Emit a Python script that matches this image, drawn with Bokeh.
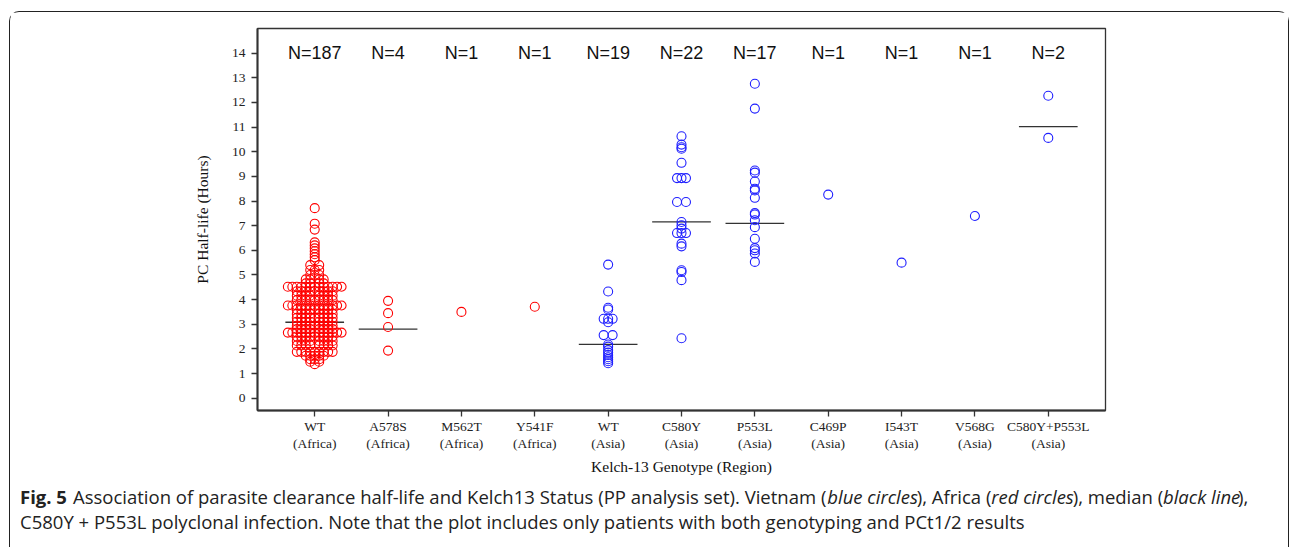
from bokeh.plotting import figure
from bokeh.layouts import column
from bokeh.models import Range1d, FixedTicker, Label, ColumnDataSource
from bokeh.core.properties import value
from bokeh.embed import file_html
from bokeh.resources import INLINE

# ---------------- data ----------------
categories = ["WT\n(Africa)", "A578S\n(Africa)", "M562T\n(Africa)", "Y541F\n(Africa)",
              "WT\n(Asia)", "C580Y\n(Asia)", "P553L\n(Asia)", "C469P\n(Asia)",
              "I543T\n(Asia)", "V568G\n(Asia)", "C580Y+P553L\n(Asia)"]
regions = ["Africa", "Africa", "Africa", "Africa", "Asia", "Asia", "Asia", "Asia", "Asia", "Asia", "Asia"]
n_labels = ["N=187", "N=4", "N=1", "N=1", "N=19", "N=22", "N=17", "N=1", "N=1", "N=1", "N=2"]

wt_africa = ([7.71, 7.08, 6.84, 6.32, 6.20, 6.08, 5.96, 5.84, 5.72, 5.60]
             + [5.40] * 2 + [5.20] * 3 + [5.00] * 3 + [4.82] * 4 + [4.66] * 4
             + [4.52] * 13
             + [4.34] * 9 + [4.16] * 8 + [3.98] * 9
             + [3.76] * 13
             + [3.60] * 9 + [3.42] * 8 + [3.26] * 9 + [3.10] * 8 + [2.94] * 9 + [2.80] * 8
             + [2.66] * 13
             + [2.50] * 9 + [2.32] * 8 + [2.14] * 8
             + [1.88] * 9
             + [1.72] * 5 + [1.58] * 3 + [1.48] * 2 + [1.38])
a578s_africa = [3.95, 3.45, 2.89, 1.93]
m562t_africa = [3.50]
y541f_africa = [3.71]
wt_asia = [5.42, 4.33, 3.67, 3.60, 3.22, 3.22, 3.22, 3.08, 2.56, 2.56,
           2.18, 2.09, 1.95, 1.85, 1.75, 1.66, 1.58, 1.50, 1.42]
c580y_asia = [10.63, 10.29, 10.18, 10.12, 9.55, 8.93, 8.93, 8.93, 7.96, 7.96, 7.15,
              7.01, 6.88, 6.70, 6.70, 6.70, 6.27, 6.16, 5.19, 5.12, 4.79, 2.43]
p553l_asia = [12.76, 11.75, 9.24, 9.15, 8.79, 8.50, 8.43, 8.13, 7.51, 7.45,
              7.22, 6.94, 6.47, 6.09, 6.00, 5.87, 5.53]
c469p_asia = [8.26]
i543t_asia = [5.50]
v568g_asia = [7.39]
c580y_p553l_asia = [12.27, 10.56]

medians = [3.08, 2.80, None, None, 2.18, 7.15, 7.09, None, None, None, 11.02]

groups = [wt_africa, a578s_africa, m562t_africa, y541f_africa, wt_asia, c580y_asia,
          p553l_asia, c469p_asia, i543t_asia, v568g_asia, c580y_p553l_asia]

region_colors = {"Africa": "#ff0000", "Asia": "#1f1fff"}

caption_line1 = [
    ("Fig. 5", "bold"),
    ("Association of parasite clearance half-life and Kelch13 Status (PP analysis set). Vietnam (", "normal"),
    ("blue circles", "italic"),
    ("), Africa (", "normal"),
    ("red circles", "italic"),
    ("), median (", "normal"),
    ("black line", "italic"),
    ("),", "normal"),
]
caption_line2 = ("C580Y + P553L polyclonal infection. Note that the plot includes only "
                 "patients with both genotyping and PCt1/2 results")

# ---------------- helpers ----------------
SWARM_STEP = 0.061  # horizontal spread step for identical values (category units)


def swarm_offsets(vals):
    counts = {}
    for v in vals:
        counts[v] = counts.get(v, 0) + 1
    seen = {}
    offs = []
    for v in vals:
        n = counts[v]
        k = seen.get(v, 0)
        seen[v] = k + 1
        if n % 2:
            slots = [0] + [s for i in range(1, n // 2 + 1) for s in (-i, i)]
        else:
            slots = [s for i in range(1, n // 2 + 1) for s in (-i, i)]
        offs.append(slots[k] * SWARM_STEP)
    return offs


xs, ys, cols = [], [], []
for i, (vals, reg) in enumerate(zip(groups, regions)):
    for off, v in zip(swarm_offsets(vals), vals):
        xs.append(i + off)
        ys.append(v)
        cols.append(region_colors[reg])
pts = ColumnDataSource(dict(x=xs, y=ys, c=cols))

mx0, mx1, my = [], [], []
for i, m in enumerate(medians):
    if m is not None:
        mx0.append(i - 0.4)
        mx1.append(i + 0.4)
        my.append(m)

# ---------------- main chart ----------------
W = 1278
p = figure(width=W, height=468, output_backend="svg", toolbar_location=None,
           x_range=Range1d(-0.78, 10.78), y_range=Range1d(-0.5, 15),
           min_border_left=247, min_border_right=183, min_border_top=16, min_border_bottom=70,
           background_fill_color="white", border_fill_color="white")
p.frame_align = False
p.grid.visible = False
p.outline_line_color = "#333333"
p.outline_line_width = 1.3

serif = "Liberation Serif"
for ax in (p.xaxis, p.yaxis):
    ax.axis_line_color = "#333333"
    ax.axis_line_width = 2
    ax.major_tick_line_color = "#333333"
    ax.major_tick_line_width = 1.3
    ax.major_tick_in = 0
    ax.major_tick_out = 6
    ax.minor_tick_line_color = None
    ax.major_label_text_font = serif
    ax.major_label_text_font_size = "13.5px"
    ax.major_label_text_color = "#222222"
    ax.axis_label_text_font = serif
    ax.axis_label_text_font_size = "15.5px"
    ax.axis_label_text_font_style = "normal"
    ax.axis_label_text_color = "#111111"

p.yaxis.ticker = FixedTicker(ticks=list(range(0, 15)))
p.yaxis.axis_label = "PC Half-life (Hours)"
p.yaxis.major_label_standoff = 6
p.yaxis.axis_label_standoff = 18

p.xaxis.ticker = FixedTicker(ticks=list(range(len(categories))))
p.xaxis.major_label_overrides = {i: c for i, c in enumerate(categories)}
p.xaxis.axis_label = "Kelch-13 Genotype (Region)"
p.xaxis.major_label_standoff = 2
p.xaxis.major_label_text_line_height = 1.15
p.xaxis.axis_label_standoff = 4

p.segment(x0=mx0, x1=mx1, y0=my, y1=my, line_color="#333333", line_width=1.3)
p.scatter("x", "y", source=pts, marker="circle", size=9, fill_color=None,
          line_color="c", line_width=1.1)

p.text(x=list(range(len(n_labels))), y=[14] * len(n_labels), text=n_labels,
       text_align="center", text_baseline="middle", text_font=value("Liberation Sans"),
       text_font_size="18px", text_color="#111111")

# ---------------- caption strip ----------------
CH = 67
cap = figure(width=W, height=CH, output_backend="svg", toolbar_location=None,
             x_range=Range1d(0, W), y_range=Range1d(0, CH), min_border=0,
             min_border_left=0, min_border_right=0, min_border_top=0, min_border_bottom=0,
             x_axis_location=None, y_axis_location=None,
             background_fill_color="white", border_fill_color="white")
cap.frame_align = False
cap.outline_line_color = None
cap.grid.visible = False

cap_font = "Open Sans"
cap_size = "18.5px"
seg_x = [9.5, 62.5, 816.8, 906.3, 980.7, 1062.2, 1152.5, 1227.5]
for (txt, style), xx in zip(caption_line1, seg_x):
    cap.add_layout(Label(x=xx, y=15.5, x_units="canvas", y_units="canvas", text=txt,
                         text_font=cap_font, text_font_size=cap_size, text_font_style=style,
                         text_baseline="middle", text_color="#222222"))
cap.add_layout(Label(x=9.5, y=40.5, x_units="canvas", y_units="canvas", text=caption_line2,
                     text_font=cap_font, text_font_size=cap_size, text_baseline="middle",
                     text_color="#222222"))

layout = column(p, cap, spacing=0,
                styles={"margin-left": "9px", "margin-top": "11px",
                        "border": "1.5px solid #222222", "border-bottom": "none",
                        "border-radius": "10px 10px 0 0"})

open("out.html", "w").write(file_html(layout, INLINE))
